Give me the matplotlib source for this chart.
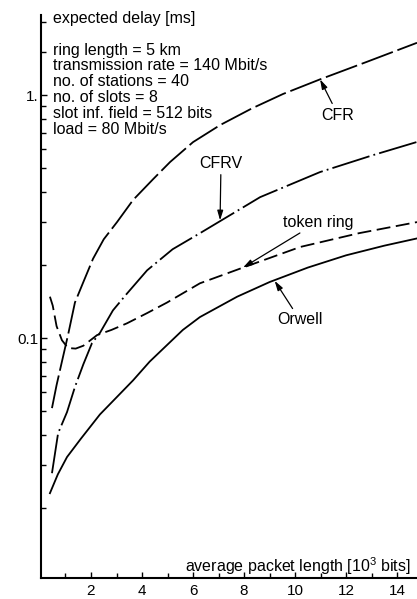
import matplotlib
matplotlib.use("Agg")
import matplotlib.pyplot as plt
from matplotlib.ticker import FixedLocator, NullFormatter

plt.rcParams['font.family'] = ['Liberation Sans', 'DejaVu Sans']
plt.rcParams['mathtext.fontset'] = 'custom'
plt.rcParams['mathtext.rm'] = 'Liberation Sans'
plt.rcParams['lines.scale_dashes'] = False

# expected delay [ms] vs average packet length [10^3 bits]
cfr_x = [0.47, 0.65, 0.86, 1.1, 1.37, 1.7, 2.08, 2.5, 3.02, 3.65, 4.43, 5.1, 6.0, 7.06, 8.3, 9.53, 10.98, 12.82, 14.78]
cfr_y = [0.0515, 0.064, 0.080, 0.103, 0.140, 0.170, 0.212, 0.255, 0.300, 0.370, 0.450, 0.530, 0.640, 0.752, 0.88, 1.01, 1.16, 1.37, 1.64]

cfrv_x = [0.47, 0.71, 1.06, 1.37, 1.7, 2.04, 2.35, 2.86, 3.4, 4.2, 5.2, 6.27, 8.63, 10.98, 13.06, 14.78]
cfrv_y = [0.0278, 0.0406, 0.0496, 0.0629, 0.078, 0.0954, 0.105, 0.130, 0.152, 0.190, 0.232, 0.270, 0.380, 0.482, 0.566, 0.641]

token_x = [0.39, 0.5, 0.65, 0.86, 1.1, 1.4, 1.7, 2.24, 2.8, 3.41, 4.2, 4.98, 6.27, 7.96, 10.2, 12.5, 14.78]
token_y = [0.148, 0.136, 0.112, 0.098, 0.091, 0.0905, 0.093, 0.1029, 0.108, 0.115, 0.1267, 0.14, 0.168, 0.195, 0.237, 0.27, 0.30]

orwell_x = [0.39, 0.7, 1.06, 1.6, 2.35, 3.0, 3.65, 4.3, 4.98, 5.6, 6.27, 7.73, 9.0, 10.5, 12.0, 13.5, 14.78]
orwell_y = [0.023, 0.0275, 0.0324, 0.0385, 0.0485, 0.057, 0.067, 0.080, 0.0936, 0.108, 0.122, 0.148, 0.17, 0.195, 0.219, 0.24, 0.257]

params = ["ring length = 5 km",
          "transmission rate = 140 Mbit/s",
          "no. of stations = 40",
          "no. of slots = 8",
          "slot inf. field = 512 bits",
          "load = 80 Mbit/s"]

W, H = 417, 599


def fpx(x, y):
    # pixel from top-left -> figure pixels
    return (x, H - y)


fig = plt.figure(figsize=(W / 100, H / 100), dpi=100)
ax = fig.add_axes([41 / W, 21 / H, 376 / W, 563 / H])

lw = 1.3
ax.plot(cfr_x, cfr_y, color='black', lw=lw, dashes=(24, 3.5))
ax.plot(cfrv_x, cfrv_y, color='black', lw=lw, dashes=(28, 3, 1.3, 3))
ax.plot(token_x, token_y, color='black', lw=lw, dashes=(10, 4))
ax.plot(orwell_x, orwell_y, color='black', lw=lw)

ax.set_yscale('log')
ax.set_xlim(0.04, 14.78)
ax.set_ylim(0.0103, 2.134)

for s in ['top', 'right']:
    ax.spines[s].set_visible(False)
for s in ['left', 'bottom']:
    ax.spines[s].set_linewidth(1.5)

ax.xaxis.set_major_locator(FixedLocator([2, 4, 6, 8, 10, 12, 14]))
ax.xaxis.set_minor_locator(FixedLocator([1, 3, 5, 7, 9, 11, 13]))
ax.set_xticklabels(['2', '4', '6', '8', '10', '12', '14'])

ax.yaxis.set_major_locator(FixedLocator([0.1, 1.0]))
minors = [k * 0.01 for k in range(2, 10)] + [k * 0.1 for k in range(2, 10)] + [1.5, 2.0]
ax.yaxis.set_minor_locator(FixedLocator(minors))
ax.yaxis.set_minor_formatter(NullFormatter())
ax.set_yticklabels(['0.1', '1.'])

ax.tick_params(which='both', direction='in', width=1.0, labelsize=11, pad=4)
ax.tick_params(which='major', length=4)
ax.tick_params(which='minor', length=3.5)
ax.tick_params(axis='y', pad=2)

fs = 11.5
fig.text(53 / W, 1 - 18 / H, "expected delay [ms]", fontsize=fs, va='center', ha='left')
line_y = [50, 66, 82, 98, 114, 130]
for txt, yy in zip(params, line_y):
    fig.text(53 / W, 1 - yy / H, txt, fontsize=fs, va='center', ha='left')

fig.text(411 / W, 1 - 566 / H, "average packet length [10$^3$ bits]", fontsize=fs,
         va='center', ha='right')

arrow = dict(arrowstyle='-|>,head_length=0.5,head_width=0.15', color='black',
             lw=0.9, shrinkA=1, shrinkB=0)
ax.annotate("CFR", xy=(10.98, 1.16), xytext=fpx(338, 115), textcoords='figure pixels',
            fontsize=fs, ha='center', va='center', arrowprops=arrow)
ax.annotate("CFRV", xy=(7.06, 0.305), xytext=fpx(221, 163), textcoords='figure pixels',
            fontsize=fs, ha='center', va='center', arrowprops=arrow)
ax.annotate("token ring", xy=(7.96, 0.195), xytext=fpx(318, 222), textcoords='figure pixels',
            fontsize=fs, ha='center', va='center', arrowprops=arrow)
ax.annotate("Orwell", xy=(9.2, 0.172), xytext=fpx(300, 320), textcoords='figure pixels',
            fontsize=fs, ha='center', va='center', arrowprops=arrow)

fig.savefig("out.png", dpi=100)
